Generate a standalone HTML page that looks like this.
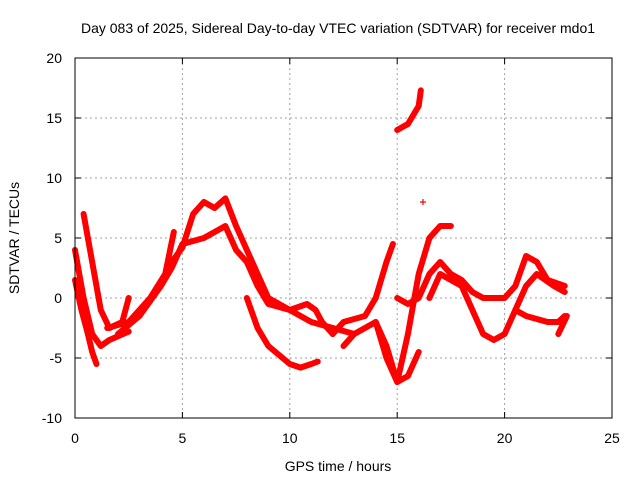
<!DOCTYPE html>
<html><head><meta charset="utf-8"><style>
body{margin:0;background:#fff;}
svg{display:block;font-family:"Liberation Sans",sans-serif;}
</style></head><body>
<svg id="chart" width="640" height="480">
<text x="338" y="33" font-size="14" text-anchor="middle">Day 083 of 2025, Sidereal Day-to-day VTEC variation (SDTVAR) for receiver mdo1</text>
<text x="338" y="471" font-size="14" text-anchor="middle">GPS time / hours</text>
<text transform="translate(19,238) rotate(-90)" font-size="14" text-anchor="middle">SDTVAR / TECUs</text>
<g id="grid"></g><g id="axes"></g><g id="series"></g>
<rect x="75" y="58" width="537" height="360" fill="none" stroke="#000" stroke-width="1"/>
</svg>
<script>
const xTicks=[0,5,10,15,20,25];
const yTicks=[-10,-5,0,5,10,15,20];
const trackA=[[0,1.5],[0.3,-1],[0.6,-3],[0.8,-4.5],[1.0,-5.5]];
const trackB=[[0,4],[0.4,0],[0.8,-3],[1.2,-4],[1.6,-3.5],[2.5,-2.8]];
const trackC=[[0.4,7],[0.6,5],[0.9,2],[1.2,-1],[1.6,-2.5],[2.2,-2],[2.5,0]];
const trackD=[[1.5,-2.5],[2.5,-2.0],[3.5,0],[4.2,2],[4.6,5.5]];
const trackE=[[2,-3],[3,-1.5],[4,1],[4.5,2.5],[5,4.5],[6,5],[7,6],[7.5,4],[8,3],[8.5,1],[9,-0.5],[10,-1],[11,-2],[12,-2.5],[13,-3]];
const trackF=[[4.5,3],[5,4.2],[5.5,7],[6,8],[6.5,7.5],[7,8.3],[7.5,6],[8,4],[8.5,2],[9,0],[10,-1],[10.8,-0.5],[11.2,-1],[11.5,-2],[12,-3]];
const trackG=[[8,0],[8.5,-2.5],[9,-4],[10,-5.5],[10.5,-5.8],[11,-5.5],[11.3,-5.3]];
const trackH=[[12,-3],[12.5,-2],[13.5,-1.5],[14,0],[14.5,3],[14.8,4.5]];
const trackI=[[12.5,-4],[13,-3],[14,-2],[14.5,-4],[15,-7],[15.5,-6.5],[16,-4.5]];
const trackJ=[[14,-2],[14.5,-5],[15,-7],[15.5,-3],[16,2],[16.5,5],[17,6],[17.5,6]];
const trackK=[[15,14],[15.5,14.5],[16,16],[16.1,17.3]];
const trackL=[[15,0],[15.5,-0.5],[16,0],[16.5,2],[17,3],[17.5,2],[18,1.5],[18.5,0.5],[19,0],[20,0],[20.5,1],[21,3.5],[21.5,3],[22,1.5],[22.8,1]];
const trackM=[[16.5,0],[17,2],[18,1],[18.5,-1],[19,-3],[19.5,-3.5],[20,-3],[20.5,-1],[21,1],[21.5,2],[22.3,1],[22.8,0.5]];
const trackN=[[20.5,-1],[21,-1.5],[22,-2],[22.5,-2],[22.8,-1.5]];
const trackO=[[22.5,-3],[22.9,-1.5]];
const outlier=[[16.2,8]];
const tracks=[trackA,trackB,trackC,trackD,trackE,trackF,trackG,trackH,trackI,trackJ,trackK,trackL,trackM,trackN,trackO];

const X=t=>75+t/25*537, Y=v=>418-(v+10)/30*360;
const NS="http://www.w3.org/2000/svg";
function mk(tag,attrs,parent){const e=document.createElementNS(NS,tag);for(const k in attrs)e.setAttribute(k,attrs[k]);parent.appendChild(e);return e;}
const grid=document.getElementById('grid'),axes=document.getElementById('axes'),ser=document.getElementById('series');
xTicks.forEach(t=>{
  if(t>0&&t<25){const g=mk('line',{x1:X(t),x2:X(t),y1:58,y2:418,stroke:'#a0a0a0','stroke-dasharray':'2,3'},grid);
  
  }
  const l=mk('text',{x:X(t),y:443,'font-size':14,'text-anchor':'middle'},axes);l.textContent=t;
  
  
  mk('line',{x1:X(t),x2:X(t),y1:418,y2:412,stroke:'#000'},axes);mk('line',{x1:X(t),x2:X(t),y1:58,y2:64,stroke:'#000'},axes);
});
yTicks.forEach(v=>{
  if(v>-10&&v<20){const g=mk('line',{x1:75,x2:612,y1:Y(v),y2:Y(v),stroke:'#a0a0a0','stroke-dasharray':'2,3'},grid);
  
  }
  const l=mk('text',{x:62,y:Y(v)+5,'font-size':14,'text-anchor':'end'},axes);l.textContent=v;
  
  
  mk('line',{x1:75,x2:81,y1:Y(v),y2:Y(v),stroke:'#000'},axes);mk('line',{x1:612,x2:606,y1:Y(v),y2:Y(v),stroke:'#000'},axes);
});
tracks.forEach(tr=>{
  const p=mk('polyline',{points:tr.map(d=>X(d[0])+','+Y(d[1])).join(' '),fill:'none',stroke:'#ff0000','stroke-width':6,'stroke-linejoin':'round','stroke-linecap':'round'},ser);
  
  
});
outlier.forEach(d=>{
  const p=mk('path',{d:`M${X(d[0])-3},${Y(d[1])}h6M${X(d[0])},${Y(d[1])-3}v6`,stroke:'#ff0000','stroke-width':1.2},ser);
  
  
});
</script>
</body></html>
